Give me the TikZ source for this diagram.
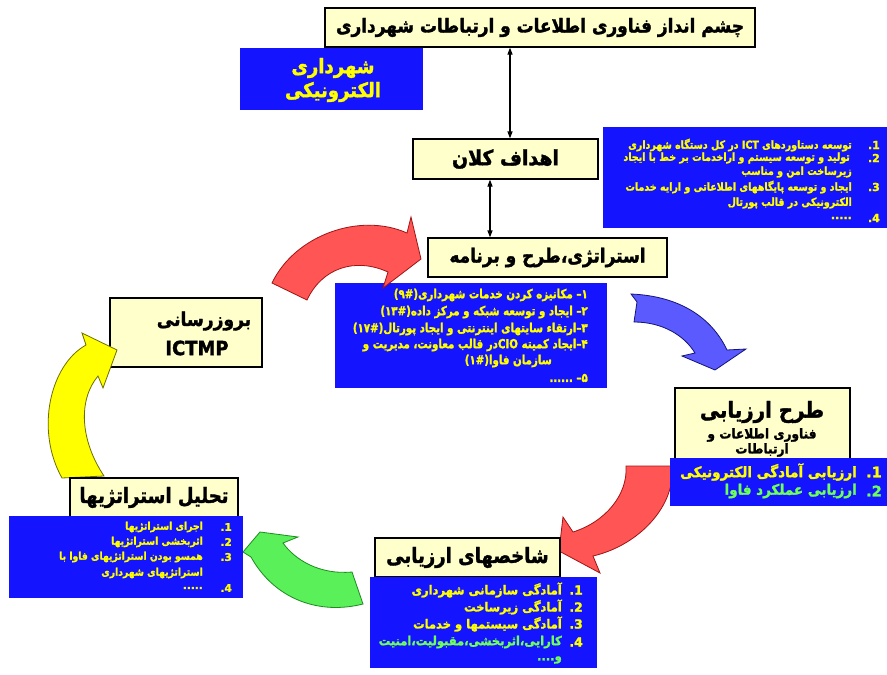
\documentclass[tikz,border=0pt]{standalone}
\usepackage{graphicx}
\usepackage{fontspec}
\TeXXeTstate=1
\newfontfamily\fa[Script=Arabic,BoldFeatures={FakeBold=1.8}]{DejaVu Sans}
\usetikzlibrary{arrows.meta}
\newcommand\rlt[1]{\beginR #1\endR}
\newcommand\sx[2]{\scalebox{#1}[1]{#2}}
\definecolor{byel}{RGB}{255,255,204}
\definecolor{bblu}{RGB}{20,20,255}
\definecolor{tyel}{RGB}{255,255,0}
\definecolor{tgrn}{RGB}{110,255,90}
\definecolor{redf}{RGB}{255,85,85}
\definecolor{redd}{RGB}{160,20,20}
\definecolor{bluf}{RGB}{90,90,255}
\definecolor{blud}{RGB}{20,20,120}
\definecolor{grnf}{RGB}{90,240,90}
\definecolor{grnd}{RGB}{30,140,30}
\definecolor{yelf}{RGB}{255,255,0}
\definecolor{yeld}{RGB}{110,110,0}
\begin{document}
\begin{tikzpicture}[x=1pt,y=-1pt,
  ybox/.style={draw=black,line width=1.2pt,fill=byel,inner sep=0pt,align=center,font=\fa\bfseries},
  bbox/.style={fill=bblu,inner sep=0pt},
  ltx/.style={anchor=east,inner sep=0pt,text=tyel},
  gtx/.style={anchor=east,inner sep=0pt,text=tgrn},
  dbl/.style={line width=1.2pt,{Triangle[length=7pt,width=5pt]}-{Triangle[length=7pt,width=5pt]}},
  redarr/.style={fill=redf,draw=redd,line width=0.8pt},
  bluarr/.style={fill=bluf,draw=blud,line width=0.8pt},
  grnarr/.style={fill=grnf,draw=grnd,line width=0.8pt},
  yelarr/.style={fill=yelf,draw=yeld,line width=0.8pt}]
\useasboundingbox[fill=white] (0,0) rectangle (887,675);

% top boxes
\node[ybox,minimum width=430pt,minimum height=39pt,font=\fa\bfseries\fontsize{19}{22}\selectfont] (title) at (540,27.5) {\sx{0.89}{\rlt{چشم انداز فناوری اطلاعات و ارتباطات شهرداری}}};
\node[bbox,minimum width=183pt,minimum height=62pt] (ebox) at (331.5,79) {};
\node[inner sep=0pt,text=tyel,font=\fa\bfseries\fontsize{20}{24}\selectfont] (ebox1) at (333,68) {\sx{0.9}{\rlt{شهرداری}}};
\node[inner sep=0pt,text=tyel,font=\fa\bfseries\fontsize{20}{24}\selectfont] (ebox2) at (333,92) {\sx{0.9}{\rlt{الکترونیکی}}};
\node[ybox,minimum width=185pt,minimum height=40pt,font=\fa\bfseries\fontsize{21}{24}\selectfont] (goal) at (505.5,159) {\sx{0.9}{\rlt{اهداف کلان}}};
\node[ybox,minimum width=239pt,minimum height=39pt,font=\fa\bfseries\fontsize{19.5}{22}\selectfont] (strat) at (547.5,257.5) {\sx{0.87}{\rlt{استراتژی،طرح و برنامه}}};
\draw[dbl] ([xshift=-30pt]title.south) -- ([xshift=4.5pt]goal.north);
\draw[dbl] ([xshift=-15.5pt]goal.south) -- ([xshift=-57.5pt]strat.north);

% right top list
\node[bbox,minimum width=284pt,minimum height=101pt] (rblue) at (745,177.5) {};
\begin{scope}[every node/.append style={font=\fa\bfseries\fontsize{11}{12}\selectfont}]
\node[ltx] (r1n) at (880,145) {1.};
\node[ltx] (r1) at (852,145) {\sx{0.86}{\rlt{توسعه دستاوردهای \beginL ICT\endL{} در کل دستگاه شهرداری}}};
\node[ltx] (r2n) at (880,158) {2.};
\node[ltx] (r2) at (850,158) {\sx{0.86}{\rlt{تولید و توسعه سیستم و اراخدمات بر خط با ایجاد}}};
\node[ltx] (r2b) at (852,172) {\sx{0.86}{\rlt{زیرساخت امن و مناسب}}};
\node[ltx] (r3n) at (880,187) {3.};
\node[ltx] (r3) at (852,187) {\sx{0.86}{\rlt{ایجاد و  توسعه پایگاههای اطلاعاتی و ارایه خدمات}}};
\node[ltx] (r3b) at (852,203) {\sx{0.86}{\rlt{الکترونیکی در قالب پورتال}}};
\node[ltx] (r4n) at (880,218) {4.};
\node[ltx] (r4) at (852,218) {.....};
\end{scope}

% centre list
\node[bbox,minimum width=272pt,minimum height=105pt] (cblue) at (471,335.5) {};
\begin{scope}[every node/.append style={font=\fa\bfseries\fontsize{12.5}{14}\selectfont}]
\node[ltx] (c1) at (588,295) {\sx{0.82}{\rlt{۱– مکانیزه کردن خدمات شهرداری\beginL(۹\#)\endL}}};
\node[ltx] (c2) at (588,312) {\sx{0.82}{\rlt{۲– ایجاد و توسعه شبکه و مرکز داده\beginL(۱۳\#)\endL}}};
\node[ltx] (c3) at (588,329) {\sx{0.82}{\rlt{۳–ارتقاء سایتهای اینترنتی و ایجاد پورتال\beginL(۱۷\#)\endL}}};
\node[ltx] (c4) at (588,345) {\sx{0.82}{\rlt{۴–ایجاد کمیته \beginL CIO\endL{}در قالب معاونت، مدیریت  و}}};
\node[ltx] (c4b) at (552,361) {\sx{0.82}{\rlt{سازمان فاوا\beginL(۱\#)\endL}}};
\node[ltx] (c5) at (588,378) {\sx{0.82}{\rlt{۵– ......}}};
\end{scope}

% arrow: red top
\filldraw[redarr] (272,283) .. controls (295,235) and (360,212) .. (407,233) -- (411,217) -- (421,259) -- (383,288) -- (388,272) .. controls (355,257) and (322,268) .. (307,300) -- cycle;
% arrow: blue right
\filldraw[bluarr] (631,294) -- (637,302) -- (634,322) .. controls (662,322) and (684,335) .. (695,353) -- (682,356) -- (715,370) -- (746,349) -- (727,350) .. controls (712,318) and (680,296) .. (631,294) -- cycle;

% left update box
\node[ybox,minimum width=152pt,minimum height=69pt] (ictmp) at (186,332.5) {};
\node[inner sep=0pt,font=\fa\bfseries\fontsize{19}{20}\selectfont] (ictmp1) at (204,321) {\sx{0.9}{\rlt{بروزرسانی}}};
\node[inner sep=0pt,font=\fa\bfseries\fontsize{19.5}{20}\selectfont] (ictmp2) at (197,348) {\sx{0.92}{ICTMP}};

% evaluation plan
\node[ybox,minimum width=175pt,minimum height=72pt] (eval) at (762.5,424) {};
\node[inner sep=0pt,font=\fa\bfseries\fontsize{22}{24}\selectfont] (evalt) at (762,412) {\sx{0.9}{\rlt{طرح ارزیابی}}};
\node[inner sep=0pt,font=\fa\bfseries\fontsize{13.5}{14}\selectfont] (evals) at (762,435) {\sx{0.9}{\rlt{فناوری اطلاعات و}}};
\node[inner sep=0pt,font=\fa\bfseries\fontsize{13.5}{14}\selectfont] (evals2) at (762,450) {\sx{0.9}{\rlt{ارتباطات}}};

% red bottom right arrow
\filldraw[redarr] (626,466) .. controls (628,495) and (605,522) .. (573,532) -- (563,517) -- (559,551) -- (600,573) -- (593,556) .. controls (640,545) and (676,505) .. (672,466) -- cycle;

\node[bbox,minimum width=217pt,minimum height=48pt] (evblue) at (778.5,482) {};
\begin{scope}[every node/.append style={font=\fa\bfseries\fontsize{14.5}{15}\selectfont}]
\node[ltx] (e1n) at (882,472) {1.};
\node[ltx] (e1) at (857,472) {\sx{0.93}{\rlt{ارزیابی آمادگی الکترونیکی}}};
\node[gtx] (e2n) at (882,491) {2.};
\node[gtx] (e2) at (857,491) {\sx{0.93}{\rlt{ارزیابی عملکرد فاوا}}};
\end{scope}

% green arrow
\filldraw[grnarr] (260,532) -- (298,537) -- (283,543) .. controls (295,560) and (320,575) .. (352,572) -- (363,604) .. controls (320,615) and (275,600) .. (251,557) -- (243,552) -- cycle;

% indicators
\node[ybox,minimum width=185pt,minimum height=39pt,font=\fa\bfseries\fontsize{21}{24}\selectfont] (ind) at (467.5,557.5) {\sx{0.86}{\rlt{شاخصهای ارزیابی}}};
\node[bbox,minimum width=227pt,minimum height=91pt] (bblue) at (483.5,622.5) {};
\begin{scope}[every node/.append style={font=\fa\bfseries\fontsize{12.5}{14}\selectfont}]
\node[ltx] (b1n) at (583,590) {1.};
\node[ltx] (b1) at (562,590) {\sx{0.92}{\rlt{آمادگی سازمانی شهرداری}}};
\node[ltx] (b2n) at (583,607) {2.};
\node[ltx] (b2) at (562,607) {\sx{0.92}{\rlt{آمادگی زیرساخت}}};
\node[ltx] (b3n) at (583,624) {3.};
\node[ltx] (b3) at (562,624) {\sx{0.92}{\rlt{آمادگی سیستمها و خدمات}}};
\node[ltx] (b4n) at (583,642) {4.};
\node[gtx] (b4) at (562,642) {\sx{0.92}{\rlt{کارایی،اثربخشی،مقبولیت،امنیت}}};
\node[gtx] (b4b) at (562,660) {\sx{0.92}{\rlt{و....}}};
\end{scope}

% yellow arrow
\filldraw[yelarr] (86,345) .. controls (50,365) and (35,430) .. (62,478) -- (104,476) .. controls (80,440) and (78,400) .. (98,376) -- (103,388) -- (117,350) -- (82,333) -- cycle;

% analysis
\node[ybox,minimum width=168pt,minimum height=39pt,font=\fa\bfseries\fontsize{21}{24}\selectfont] (anal) at (154,497.5) {\sx{0.86}{\rlt{تحلیل استراتژیها}}};
\node[bbox,minimum width=234pt,minimum height=82pt] (lblue) at (126,557) {};
\begin{scope}[every node/.append style={font=\fa\bfseries\fontsize{10.5}{11}\selectfont}]
\node[ltx] (l1n) at (232,527) {1.};
\node[ltx] (l1) at (203,527) {\sx{0.88}{\rlt{اجرای استراتژیها}}};
\node[ltx] (l2n) at (232,542) {2.};
\node[ltx] (l2) at (203,542) {\sx{0.88}{\rlt{اثربخشی استراتژیها}}};
\node[ltx] (l3n) at (232,557) {3.};
\node[ltx] (l3) at (203,557) {\sx{0.88}{\rlt{همسو بودن استراتژیهای فاوا با}}};
\node[ltx] (l3b) at (203,573) {\sx{0.88}{\rlt{استراتژیهای شهرداری}}};
\node[ltx] (l4n) at (232,588) {4.};
\node[ltx] (l4) at (203,588) {.....};
\end{scope}
\end{tikzpicture}
\end{document}
